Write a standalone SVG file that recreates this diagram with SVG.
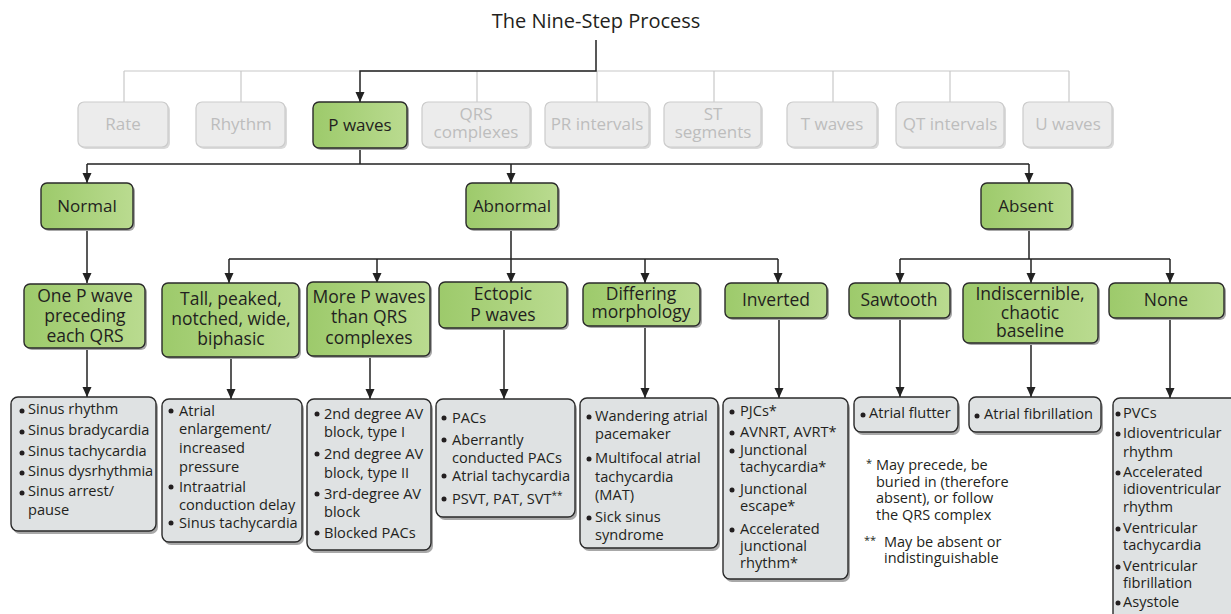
<svg xmlns="http://www.w3.org/2000/svg" width="1231" height="614" viewBox="0 0 1231 614">
<defs>
<linearGradient id="grn" x1="0" y1="0" x2="1" y2="0">
<stop offset="0" stop-color="#9dca6b"/>
<stop offset="1" stop-color="#badb90"/>
</linearGradient>
<marker id="arr" viewBox="0 0 10 10" refX="10" refY="5" markerWidth="10" markerHeight="10" markerUnits="userSpaceOnUse" orient="auto">
<path d="M0,0.5 L10,5 L0,9.5 z" fill="#222"/>
</marker>
</defs>
<style>
text{font-family:"Open Sans","Liberation Sans",sans-serif;fill:#231f20}
.t{font-size:20px}
.s{font-size:17px;fill:#bdbdbd;text-anchor:middle}
.m{font-size:17px;text-anchor:middle}
.n{font-size:17.5px;text-anchor:middle}
.i{font-size:14.6px}
.f{font-size:14.5px}
.gy{fill:#ececec;stroke:#cbcbcb;stroke-width:1.2}
.shl{fill:#dadada}
.g{fill:url(#grn);stroke:#2a2a2a;stroke-width:1.4}
.l4{fill:#dfe2e3;stroke:#2a2a2a;stroke-width:1.4}
.sh{fill:#a8a8a8}
.k{fill:none;stroke:#222;stroke-width:1.5}
.ka{fill:none;stroke:#222;stroke-width:1.5;marker-end:url(#arr)}
.gl{fill:none;stroke:#c8c8c8;stroke-width:1.2}
circle{fill:#231f20}
</style>
<rect width="1231" height="614" fill="#fff"/>

<g id="connectors">
<path class="gl" d="M124,71 H1069 M124,71 V102 M241,71 V102 M477,71 V102 M597,71 V102 M714,71 V102 M833,71 V102 M950,71 V102 M1069,71 V102"/>
<path class="ka" d="M596,40 V71 H360 V102"/>
<path class="k" d="M360,148 V164 M87,164 H1029"/>
<path class="ka" d="M87,164 V183"/>
<path class="ka" d="M511,164 V183"/>
<path class="ka" d="M1029,164 V183"/>
<path class="ka" d="M87,229 V283"/>
<path class="k" d="M511,229 V259 M229,259 H778"/>
<path class="ka" d="M229,259 V283"/>
<path class="ka" d="M377,259 V283"/>
<path class="ka" d="M511,259 V283"/>
<path class="ka" d="M645,259 V283"/>
<path class="ka" d="M778,259 V283"/>
<path class="k" d="M1029,229 V259 M900,259 H1170"/>
<path class="ka" d="M900,259 V283"/>
<path class="ka" d="M1031,259 V283"/>
<path class="ka" d="M1170,259 V283"/>
<path class="ka" d="M87,348 V397"/>
<path class="ka" d="M231,357 V399"/>
<path class="ka" d="M370,356 V399"/>
<path class="ka" d="M504,328 V399"/>
<path class="ka" d="M645,326 V398"/>
<path class="ka" d="M779,318 V398"/>
<path class="ka" d="M900,318 V397"/>
<path class="ka" d="M1031,343 V397"/>
<path class="ka" d="M1170,318 V398"/>
</g>

<g id="title"><text class="t" x="596" y="28" text-anchor="middle">The Nine-Step Process</text></g>

<g id="rate"><rect class="shl" x="80" y="104" width="90" height="45" rx="6"/><rect class="gy" x="78" y="102" width="90" height="45" rx="6"/><text class="s" x="123" y="130">Rate</text></g>
<g id="rhythm"><rect class="shl" x="198" y="104" width="89" height="45" rx="6"/><rect class="gy" x="196" y="102" width="89" height="45" rx="6"/><text class="s" x="241" y="130">Rhythm</text></g>
<g id="pwaves"><rect class="sh" x="315" y="104" width="94" height="46" rx="6"/><rect class="g" x="313" y="102" width="94" height="46" rx="6"/><text class="m" x="360" y="131">P waves</text></g>
<g id="qrs"><rect class="shl" x="424" y="104" width="108" height="45" rx="6"/><rect class="gy" x="422" y="102" width="108" height="45" rx="6"/><text class="s" x="476" y="120">QRS</text><text class="s" x="476" y="138">complexes</text></g>
<g id="pr"><rect class="shl" x="547" y="104" width="104" height="45" rx="6"/><rect class="gy" x="545" y="102" width="104" height="45" rx="6"/><text class="s" x="597" y="130">PR intervals</text></g>
<g id="st"><rect class="shl" x="666" y="104" width="97" height="45" rx="6"/><rect class="gy" x="664" y="102" width="97" height="45" rx="6"/><text class="s" x="713" y="120">ST</text><text class="s" x="713" y="138">segments</text></g>
<g id="twaves"><rect class="shl" x="789" y="104" width="90" height="45" rx="6"/><rect class="gy" x="787" y="102" width="90" height="45" rx="6"/><text class="s" x="832" y="130">T waves</text></g>
<g id="qt"><rect class="shl" x="898" y="104" width="108" height="45" rx="6"/><rect class="gy" x="896" y="102" width="108" height="45" rx="6"/><text class="s" x="950" y="130">QT intervals</text></g>
<g id="uwaves"><rect class="shl" x="1025" y="104" width="89" height="45" rx="6"/><rect class="gy" x="1023" y="102" width="89" height="45" rx="6"/><text class="s" x="1068" y="130">U waves</text></g>

<g id="normal"><rect class="sh" x="43" y="185" width="92" height="46" rx="6"/><rect class="g" x="41" y="183" width="92" height="46" rx="6"/><text class="m" x="87" y="212">Normal</text></g>
<g id="abnormal"><rect class="sh" x="468" y="185" width="92" height="46" rx="6"/><rect class="g" x="466" y="183" width="92" height="46" rx="6"/><text class="m" x="512" y="212">Abnormal</text></g>
<g id="absent"><rect class="sh" x="983" y="185" width="91" height="46" rx="6"/><rect class="g" x="981" y="183" width="91" height="46" rx="6"/><text class="m" x="1026" y="212">Absent</text></g>

<g id="onep"><rect class="sh" x="26" y="286" width="121" height="64" rx="6"/><rect class="g" x="24" y="284" width="121" height="64" rx="6"/><text class="n" x="85" y="302">One P wave</text><text class="n" x="85" y="322">preceding</text><text class="n" x="85" y="342">each QRS</text></g>
<g id="tall"><rect class="sh" x="164" y="285" width="137" height="74" rx="6"/><rect class="g" x="162" y="283" width="137" height="74" rx="6"/><text class="n" x="231" y="305">Tall, peaked,</text><text class="n" x="231" y="325">notched, wide,</text><text class="n" x="231" y="345">biphasic</text></g>
<g id="morep"><rect class="sh" x="309" y="284" width="123" height="74" rx="6"/><rect class="g" x="307" y="282" width="123" height="74" rx="6"/><text class="n" x="369" y="303">More P waves</text><text class="n" x="369" y="323">than QRS</text><text class="n" x="369" y="344">complexes</text></g>
<g id="ectopic"><rect class="sh" x="441" y="284" width="128" height="46" rx="6"/><rect class="g" x="439" y="282" width="128" height="46" rx="6"/><text class="n" x="503" y="300">Ectopic</text><text class="n" x="503" y="321">P waves</text></g>
<g id="differing"><rect class="sh" x="585" y="285" width="117" height="43" rx="6"/><rect class="g" x="583" y="283" width="117" height="43" rx="6"/><text class="n" x="641" y="300">Differing</text><text class="n" x="641" y="318">morphology</text></g>
<g id="inverted"><rect class="sh" x="727" y="285" width="102" height="35" rx="6"/><rect class="g" x="725" y="283" width="102" height="35" rx="6"/><text class="n" x="776" y="306">Inverted</text></g>
<g id="sawtooth"><rect class="sh" x="851" y="285" width="101" height="35" rx="6"/><rect class="g" x="849" y="283" width="101" height="35" rx="6"/><text class="n" x="899" y="306">Sawtooth</text></g>
<g id="indiscernible"><rect class="sh" x="965" y="285" width="135" height="60" rx="6"/><rect class="g" x="963" y="283" width="135" height="60" rx="6"/><text class="n" x="1030" y="300">Indiscernible,</text><text class="n" x="1030" y="319">chaotic</text><text class="n" x="1030" y="337">baseline</text></g>
<g id="none"><rect class="sh" x="1111" y="285" width="115" height="35" rx="6"/><rect class="g" x="1109" y="283" width="115" height="35" rx="6"/><text class="n" x="1166" y="306">None</text></g>

<g id="list-normal"><rect class="sh" x="13" y="400" width="145" height="134" rx="7"/><rect class="l4" x="11" y="397" width="145" height="134" rx="7"/>
<circle cx="22" cy="411" r="2.5"/><text class="i" x="28" y="414">Sinus rhythm</text>
<circle cx="22" cy="432" r="2.5"/><text class="i" x="28" y="435">Sinus bradycardia</text>
<circle cx="22" cy="453" r="2.5"/><text class="i" x="28" y="456">Sinus tachycardia</text>
<circle cx="22" cy="473" r="2.5"/><text class="i" x="28" y="476">Sinus dysrhythmia</text>
<circle cx="22" cy="493" r="2.5"/><text class="i" x="28" y="496">Sinus arrest/</text>
<text class="i" x="28" y="515">pause</text></g>

<g id="list-tall"><rect class="sh" x="164" y="402" width="140" height="143" rx="7"/><rect class="l4" x="162" y="399" width="140" height="143" rx="7"/>
<circle cx="171" cy="411" r="2.5"/><text class="i" x="179" y="416">Atrial</text>
<text class="i" x="179" y="434">enlargement/</text>
<text class="i" x="179" y="453">increased</text>
<text class="i" x="179" y="472">pressure</text>
<circle cx="171" cy="487" r="2.5"/><text class="i" x="179" y="492">Intraatrial</text>
<text class="i" x="179" y="510">conduction delay</text>
<circle cx="171" cy="523" r="2.5"/><text class="i" x="179" y="528">Sinus tachycardia</text></g>

<g id="list-morep"><rect class="sh" x="309" y="402" width="124" height="151" rx="7"/><rect class="l4" x="307" y="399" width="124" height="151" rx="7"/>
<circle cx="317" cy="414" r="2.5"/><text class="i" x="324" y="419">2nd degree AV</text>
<text class="i" x="324" y="437">block, type I</text>
<circle cx="317" cy="454" r="2.5"/><text class="i" x="324" y="459">2nd degree AV</text>
<text class="i" x="324" y="478">block, type II</text>
<circle cx="317" cy="494" r="2.5"/><text class="i" x="324" y="499">3rd-degree AV</text>
<text class="i" x="324" y="517">block</text>
<circle cx="317" cy="533" r="2.5"/><text class="i" x="324" y="538">Blocked PACs</text></g>

<g id="list-ectopic"><rect class="sh" x="438" y="402" width="139" height="118" rx="7"/><rect class="l4" x="436" y="399" width="139" height="118" rx="7"/>
<circle cx="444" cy="418" r="2.5"/><text class="i" x="452" y="423">PACs</text>
<circle cx="444" cy="440" r="2.5"/><text class="i" x="452" y="445">Aberrantly</text>
<text class="i" x="452" y="463">conducted PACs</text>
<circle cx="444" cy="476" r="2.5"/><text class="i" x="452" y="481">Atrial tachycardia</text>
<circle cx="444" cy="499" r="2.5"/><text class="i" x="452" y="504">PSVT, PAT, SVT<tspan font-size="10" dy="-5">**</tspan></text></g>

<g id="list-differing"><rect class="sh" x="582" y="401" width="138" height="150" rx="7"/><rect class="l4" x="580" y="398" width="138" height="150" rx="7"/>
<circle cx="589" cy="417" r="2.5"/><text class="i" x="595" y="421">Wandering atrial</text>
<text class="i" x="595" y="439">pacemaker</text>
<circle cx="589" cy="459" r="2.5"/><text class="i" x="595" y="463">Multifocal atrial</text>
<text class="i" x="595" y="482">tachycardia</text>
<text class="i" x="595" y="500">(MAT)</text>
<circle cx="589" cy="518" r="2.5"/><text class="i" x="595" y="522">Sick sinus</text>
<text class="i" x="595" y="540">syndrome</text></g>

<g id="list-inverted"><rect class="sh" x="725" y="401" width="125" height="181" rx="7"/><rect class="l4" x="723" y="398" width="125" height="181" rx="7"/>
<circle cx="732" cy="412" r="2.5"/><text class="i" x="740" y="416">PJCs*</text>
<circle cx="732" cy="433" r="2.5"/><text class="i" x="740" y="437">AVNRT, AVRT*</text>
<circle cx="732" cy="451" r="2.5"/><text class="i" x="740" y="455">Junctional</text>
<text class="i" x="740" y="472">tachycardia*</text>
<circle cx="732" cy="490" r="2.5"/><text class="i" x="740" y="494">Junctional</text>
<text class="i" x="740" y="511">escape*</text>
<circle cx="732" cy="530" r="2.5"/><text class="i" x="740" y="534">Accelerated</text>
<text class="i" x="740" y="551">junctional</text>
<text class="i" x="740" y="568">rhythm*</text></g>

<g id="list-sawtooth"><rect class="sh" x="856" y="400" width="104" height="35" rx="7"/><rect class="l4" x="854" y="397" width="104" height="35" rx="7"/>
<circle cx="863" cy="415" r="2.5"/><text class="i" x="869" y="418">Atrial flutter</text></g>

<g id="list-indiscernible"><rect class="sh" x="971" y="400" width="132" height="35" rx="7"/><rect class="l4" x="969" y="397" width="132" height="35" rx="7"/>
<circle cx="977" cy="416" r="2.5"/><text class="i" x="984" y="419">Atrial fibrillation</text></g>

<g id="list-none"><rect class="sh" x="1115" y="401" width="130" height="230" rx="7"/><rect class="l4" x="1113" y="398" width="130" height="230" rx="7"/>
<circle cx="1118" cy="414" r="2.5"/><text class="i" x="1123" y="418">PVCs</text>
<circle cx="1118" cy="434" r="2.5"/><text class="i" x="1123" y="438">Idioventricular</text>
<text class="i" x="1123" y="457">rhythm</text>
<circle cx="1118" cy="473" r="2.5"/><text class="i" x="1123" y="477">Accelerated</text>
<text class="i" x="1123" y="494">idioventricular</text>
<text class="i" x="1123" y="512">rhythm</text>
<circle cx="1118" cy="529" r="2.5"/><text class="i" x="1123" y="533">Ventricular</text>
<text class="i" x="1123" y="550">tachycardia</text>
<circle cx="1118" cy="567" r="2.5"/><text class="i" x="1123" y="571">Ventricular</text>
<text class="i" x="1123" y="588">fibrillation</text>
<circle cx="1118" cy="603" r="2.5"/><text class="i" x="1123" y="607">Asystole</text></g>

<g id="footnotes">
<text class="f" x="866" y="470"><tspan font-size="11" dy="-3">*</tspan><tspan dy="3" x="876">May precede, be</tspan></text>
<text class="f" x="876" y="487">buried in (therefore</text>
<text class="f" x="876" y="503">absent), or follow</text>
<text class="f" x="876" y="520">the QRS complex</text>
<text class="f" x="864" y="547"><tspan font-size="11" dy="-3">**</tspan><tspan dy="3" x="884">May be absent or</tspan></text>
<text class="f" x="884" y="563">indistinguishable</text>
</g>
</svg>
